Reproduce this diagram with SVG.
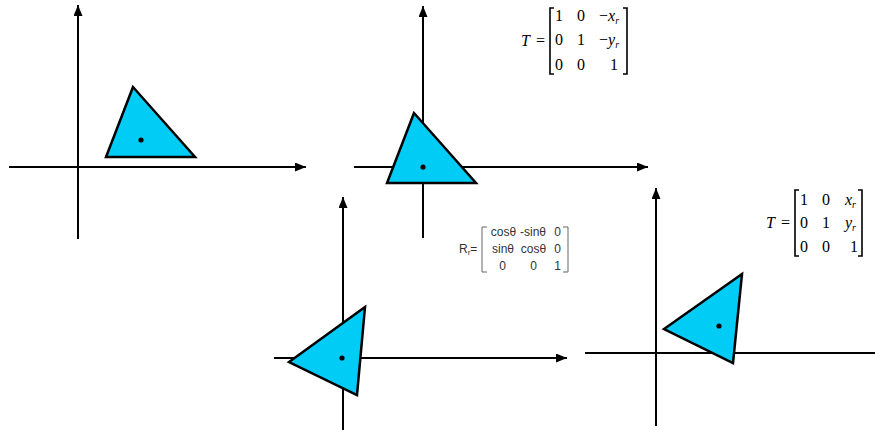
<svg xmlns="http://www.w3.org/2000/svg" width="875" height="430" viewBox="0 0 875 430">
<defs>
<marker id="arr" markerUnits="userSpaceOnUse" markerWidth="12" markerHeight="10" refX="11" refY="4.5" orient="auto">
<path d="M0,0 L11,4.5 L0,9 z" fill="#000"/>
</marker>
<style>
.ax{stroke:#000;stroke-width:2;fill:none}
.tri{fill:#00CCF5;stroke:#000;stroke-width:2.5;stroke-linejoin:miter}
.dot{fill:#000}
.m{font-family:"Liberation Serif","Times New Roman",serif;font-size:16px;fill:#000}
.i{font-style:italic}
.sub{font-family:"Liberation Serif","Times New Roman",serif;font-size:10px;font-style:italic}
.br{stroke:#000;stroke-width:1.6;fill:none}
.r{font-family:"Liberation Sans",Arial,sans-serif;font-size:12px;fill:#333}
.rbr{stroke:#666;stroke-width:1;fill:none}
</style>
</defs>
<rect width="875" height="430" fill="#fff"/>
<g id="connectors">
<line class="ax" x1="78" y1="239" x2="78" y2="5" marker-end="url(#arr)"/>
<line class="ax" x1="9" y1="167" x2="306" y2="167" marker-end="url(#arr)"/>
<line class="ax" x1="423" y1="238" x2="423" y2="6" marker-end="url(#arr)"/>
<line class="ax" x1="354" y1="167" x2="648" y2="167" marker-end="url(#arr)"/>
<line class="ax" x1="343" y1="430" x2="343" y2="197" marker-end="url(#arr)"/>
<line class="ax" x1="274" y1="358" x2="567" y2="358" marker-end="url(#arr)"/>
<line class="ax" x1="656" y1="426" x2="656" y2="188" marker-end="url(#arr)"/>
<line class="ax" x1="585" y1="353" x2="875" y2="353"/>
</g>
<g id="tri1">
<polygon class="tri" points="133,87 106,157 195,157"/>
<circle class="dot" cx="141" cy="140" r="2.6"/>
</g>
<g id="tri2">
<polygon class="tri" points="414,113 387,183 476,183"/>
<circle class="dot" cx="423" cy="167" r="2.6"/>
</g>
<g id="tri3">
<polygon class="tri" points="365,307 289,362 357,395"/>
<circle class="dot" cx="342" cy="358" r="2.6"/>
</g>
<g id="tri4">
<polygon class="tri" points="742,274 664,329 733,363"/>
<circle class="dot" cx="719" cy="326" r="2.6"/>
</g>
<g id="matrixT1">
<text class="m i" x="521" y="46">T</text>
<text class="m" x="536" y="46">=</text>
<path class="br" d="M554,8 L550,8 L550,74 L554,74"/>
<path class="br" d="M623,8 L627,8 L627,74 L623,74"/>
<text class="m" x="555" y="21">1</text>
<text class="m" x="577" y="21">0</text>
<text class="m" x="599" y="21">−<tspan class="i">x</tspan><tspan class="sub" dy="3">r</tspan></text>
<text class="m" x="555" y="45">0</text>
<text class="m" x="577" y="45">1</text>
<text class="m" x="599" y="45">−<tspan class="i">y</tspan><tspan class="sub" dy="3">r</tspan></text>
<text class="m" x="555" y="70">0</text>
<text class="m" x="577" y="70">0</text>
<text class="m" x="610" y="70">1</text>
</g>
<g id="matrixR">
<text class="r" x="459" y="253">R<tspan font-size="8" dy="2">r</tspan><tspan dy="-2">=</tspan></text>
<path class="rbr" d="M487,227 L482,227 L482,272 L487,272"/>
<path class="rbr" d="M563,227 L568,227 L568,272 L563,272"/>
<g text-anchor="middle">
<text class="r" x="503.5" y="236">cosθ</text>
<text class="r" x="533" y="236">-sinθ</text>
<text class="r" x="557.5" y="236">0</text>
<text class="r" x="503" y="253">sinθ</text>
<text class="r" x="533.5" y="253">cosθ</text>
<text class="r" x="557.5" y="253">0</text>
<text class="r" x="502.5" y="269.5">0</text>
<text class="r" x="533.5" y="269.5">0</text>
<text class="r" x="557.5" y="269.5">1</text>
</g>
</g>
<g id="matrixT2">
<text class="m i" x="766" y="228">T</text>
<text class="m" x="781" y="228">=</text>
<path class="br" d="M799,190 L795,190 L795,256 L799,256"/>
<path class="br" d="M858,190 L862,190 L862,256 L858,256"/>
<text class="m" x="800" y="205">1</text>
<text class="m" x="822" y="205">0</text>
<text class="m i" x="845" y="205">x<tspan class="sub" dy="3">r</tspan></text>
<text class="m" x="800" y="228">0</text>
<text class="m" x="822" y="228">1</text>
<text class="m i" x="845" y="228">y<tspan class="sub" dy="3">r</tspan></text>
<text class="m" x="800" y="252">0</text>
<text class="m" x="822" y="252">0</text>
<text class="m" x="850" y="252">1</text>
</g>
</svg>
